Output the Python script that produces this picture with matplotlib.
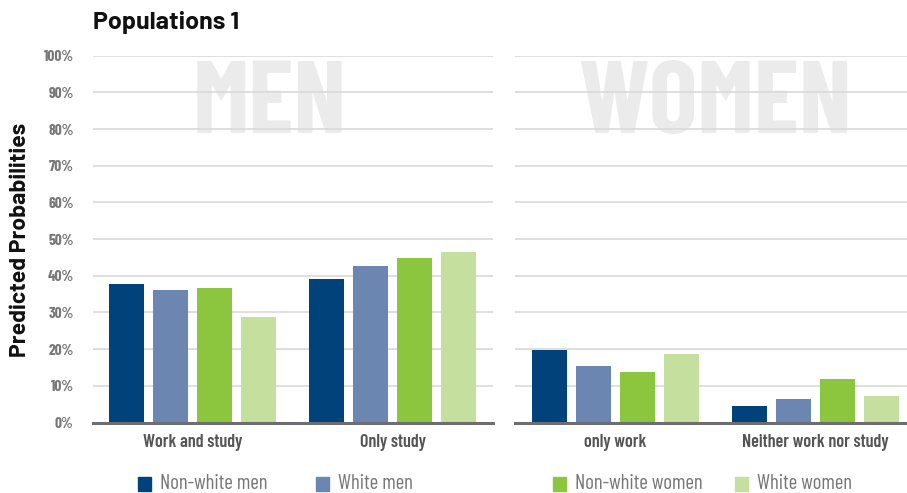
import matplotlib.pyplot as plt
from matplotlib.patches import Rectangle
import numpy as np

men_cats = ['Work and study', 'Only study']
women_cats = ['only work', 'Neither work nor study']
series = ['Non-white men', 'White men', 'Non-white women', 'White women']
colors = ['#02427a', '#6a86b1', '#8cc63f', '#c5e09e']

# predicted probabilities (%) per series, one list per panel
men_vals = [
    [37.7, 39.1],   # Non-white men
    [36.1, 42.6],   # White men
    [36.6, 44.8],   # Non-white women
    [28.7, 46.5],   # White women
]
women_vals = [
    [19.8, 4.5],
    [15.4, 6.4],
    [13.8, 11.9],
    [18.7, 7.2],
]
yticks = [0, 10, 20, 30, 40, 50, 60, 70, 80, 90, 100]

cond = ['Barlow Condensed', 'DejaVu Sans']
plt.rcParams['font.family'] = cond

fig = plt.figure(figsize=(9.07, 4.93), dpi=100)
bottom, height = 0.143, 0.744
ax1 = fig.add_axes([0.1025, bottom, 0.441, height])
ax2 = fig.add_axes([0.568, bottom, 0.432, height])

pitch = 0.22
width = 0.175
offsets = (np.arange(4) - 1.5) * pitch


def draw_panel(ax, cats, vals, word, xmax, wx):
    centers = np.arange(len(cats)) + 0.5
    for i in range(4):
        ax.bar(centers + offsets[i], vals[i], width=width, color=colors[i], zorder=3)
    ax.set_xlim(0, xmax)
    ax.set_ylim(0, 100)
    ax.set_yticks(yticks)
    ax.grid(axis='y', color='#d9d9d9', linewidth=1.2, zorder=0)
    for s in ['top', 'right', 'left']:
        ax.spines[s].set_visible(False)
    ax.spines['bottom'].set_color('#6d6e71')
    ax.spines['bottom'].set_linewidth(2.2)
    ax.spines['bottom'].set_zorder(4)
    ax.set_xticks(centers)
    ax.set_xticklabels(cats, fontsize=13, fontweight='semibold', color='#555555')
    ax.tick_params(axis='x', length=0, pad=8)
    ax.tick_params(axis='y', length=0)
    ax.text(wx, 0.985, word, transform=ax.transAxes, ha='center', va='top',
            fontsize=74, fontweight='bold', color='#ebebeb', zorder=1)


draw_panel(ax1, men_cats, men_vals, 'MEN', 2.0, 0.443)
draw_panel(ax2, women_cats, women_vals, 'WOMEN', 1.96, 0.513)

ax1.set_yticklabels([f'{t}%' for t in yticks], fontsize=11, fontweight='bold', color='#777777')
ax1.tick_params(axis='y', pad=14)
ax2.set_yticklabels([])

fig.text(0.1025, 0.955, 'Populations 1', fontsize=18, fontweight='bold',
         family=['Barlow', 'DejaVu Sans'], ha='left', va='center', color='#111111')
fig.text(0.022, 0.513, 'Predicted Probabilities', rotation=90, fontsize=16.5,
         fontweight='bold', family=['Barlow', 'DejaVu Sans'],
         ha='center', va='center', color='#111111')

# legend
leg_x = [138, 316, 553, 735]
for i, name in enumerate(series):
    x0 = leg_x[i] / 907
    fig.add_artist(Rectangle((x0, 0.005), 13 / 907, 14 / 493,
                             transform=fig.transFigure, color=colors[i]))
    fig.text(x0 + 22 / 907, 0.019, name, fontsize=15, color='#777777',
             ha='left', va='center')

fig.savefig('out.png', dpi=100)
